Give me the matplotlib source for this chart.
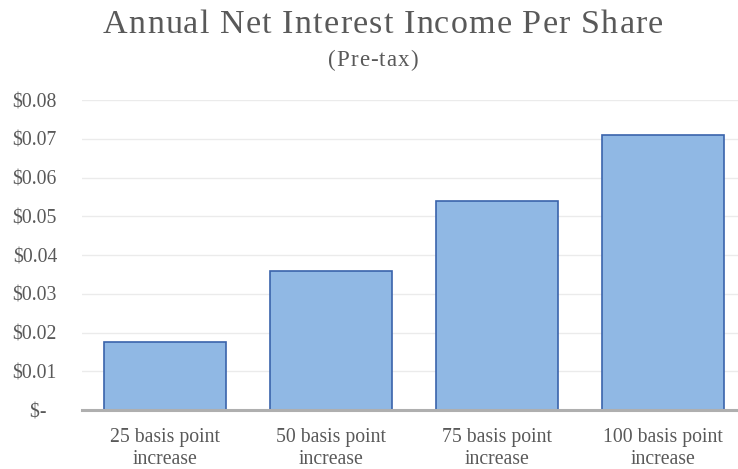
import matplotlib
matplotlib.use("Agg")
import matplotlib.pyplot as plt
from matplotlib.ticker import FixedLocator
from matplotlib.font_manager import FontProperties, findfont
from matplotlib.ft2font import FT2Font

categories = ["25 basis point\nincrease", "50 basis point\nincrease",
              "75 basis point\nincrease", "100 basis point\nincrease"]
values = [0.0175, 0.036, 0.054, 0.071]
yticks = [0, 0.01, 0.02, 0.03, 0.04, 0.05, 0.06, 0.07, 0.08]
ytick_labels = ["$-  ", "$0.01", "$0.02", "$0.03", "$0.04", "$0.05", "$0.06", "$0.07", "$0.08"]
title = "Annual Net Interest Income Per Share"
subtitle = "(Pre-tax)"

plt.rcParams['font.family'] = ['Liberation Serif', 'DejaVu Serif']
text_color = "#595959"

W, H = 738, 469
DPI = 100
fig = plt.figure(figsize=(W / DPI, H / DPI), dpi=DPI)
ax = fig.add_axes([82 / W, 59 / H, 1 - 82 / W, 310 / H])


def tracked_text(s, cx_px, baseline_px, size, track_px):
    prop = FontProperties(family='Liberation Serif', size=size)
    font = FT2Font(findfont(prop), hinting_factor=1)
    font.set_size(size, DPI)
    adv = []
    for ch in s:
        g = font.load_char(ord(ch))
        adv.append(g.linearHoriAdvance / 65536.0)
    total = sum(adv) + track_px * (len(s) - 1)
    xpos = cx_px - total / 2
    for ch, a in zip(s, adv):
        if ch != ' ':
            fig.text(xpos / W, 1 - baseline_px / H, ch, ha='left', va='baseline',
                     fontsize=size, color=text_color)
        xpos += a + track_px


x = list(range(len(categories)))
ax.bar(x, values, width=0.735, color="#90B8E4", edgecolor="#3A63AB", linewidth=1.2, zorder=3)

ax.set_xlim(-0.5, 3.45)
ax.set_ylim(0, 0.08)
ax.yaxis.set_major_locator(FixedLocator(yticks))
ax.set_yticklabels(ytick_labels)
ax.set_xticks(x)
ax.set_xticklabels(categories, linespacing=1.2)

ax.grid(axis='y', color="#EBEBEB", linewidth=1.0, zorder=0)
ax.set_axisbelow(True)
for s in ['top', 'right', 'left']:
    ax.spines[s].set_visible(False)
ax.spines['bottom'].set_color("#AFAFAF")
ax.spines['bottom'].set_linewidth(2.2)
ax.spines['bottom'].set_zorder(4)

ax.tick_params(axis='both', length=0, colors=text_color, labelsize=14.2)
ax.tick_params(axis='y', pad=18)
ax.tick_params(axis='x', pad=13)

tracked_text(title, 383, 33, 24.5, 1.2)
tracked_text(subtitle, 373, 66, 16.5, 1.1)

fig.savefig("out.png", dpi=DPI)
